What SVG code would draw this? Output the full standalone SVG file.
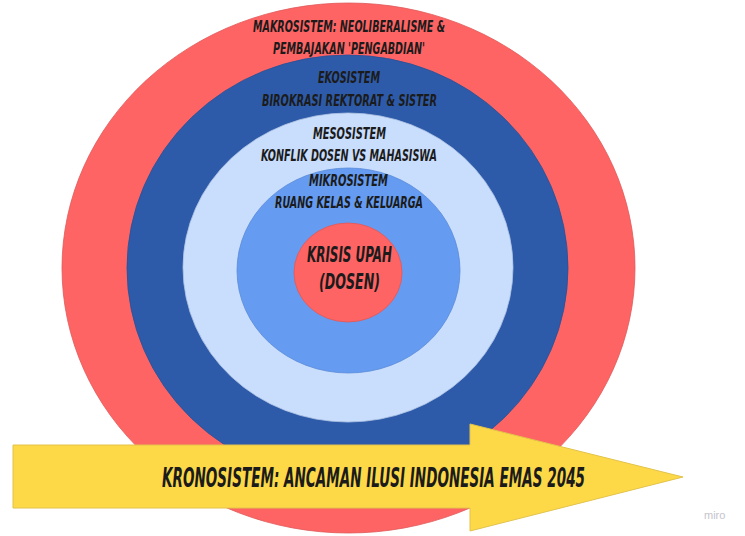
<svg xmlns="http://www.w3.org/2000/svg" width="745" height="536" viewBox="0 0 745 536">
  <style>
    .lbl { font-family: "Liberation Sans Narrow", "DejaVu Sans", sans-serif; font-weight: bold; font-style: italic; fill: #1b1b1b; text-anchor: start; }
    .s { font-size: 16px; }
    .m { font-size: 21px; }
    .l { font-size: 27px; }
    .ring { stroke-width: 0.8; }
  </style>
  <rect width="745" height="536" fill="#ffffff"/>
  <g id="makrosistem">
    <ellipse class="ring" cx="348.5" cy="268" rx="286.5" ry="265" fill="#FF6464" stroke="#e05858"/>
    <text class="lbl s" x="253" y="32" textLength="192" lengthAdjust="spacingAndGlyphs">MAKROSISTEM: NEOLIBERALISME &amp;</text>
    <text class="lbl s" x="273" y="54" textLength="152" lengthAdjust="spacingAndGlyphs">PEMBAJAKAN 'PENGABDIAN'</text>
  </g>
  <g id="ekosistem">
    <ellipse class="ring" cx="347.5" cy="268" rx="220.5" ry="213" fill="#2E5BA9" stroke="#284f94"/>
    <text class="lbl s" x="318" y="83" textLength="62" lengthAdjust="spacingAndGlyphs">EKOSISTEM</text>
    <text class="lbl s" x="262" y="106" textLength="175" lengthAdjust="spacingAndGlyphs">BIROKRASI REKTORAT &amp; SISTER</text>
  </g>
  <g id="mesosistem">
    <ellipse class="ring" cx="348" cy="267.5" rx="165" ry="154.5" fill="#C9DDFC" stroke="#b3c7e6"/>
    <text class="lbl s" x="313" y="139" textLength="73" lengthAdjust="spacingAndGlyphs">MESOSISTEM</text>
    <text class="lbl s" x="261" y="161" textLength="176" lengthAdjust="spacingAndGlyphs">KONFLIK DOSEN VS MAHASISWA</text>
  </g>
  <g id="mikrosistem">
    <ellipse class="ring" cx="348.5" cy="270.5" rx="111.5" ry="102.5" fill="#659BF0" stroke="#5a8cd8"/>
    <text class="lbl s" x="309" y="186" textLength="79" lengthAdjust="spacingAndGlyphs">MIKROSISTEM</text>
    <text class="lbl s" x="275" y="208" textLength="148" lengthAdjust="spacingAndGlyphs">RUANG KELAS &amp; KELUARGA</text>
  </g>
  <g id="krisis-upah">
    <ellipse class="ring" cx="348" cy="272.5" rx="54" ry="49.5" fill="#FF6464" stroke="#e05858"/>
    <text class="lbl m" x="307" y="262" textLength="85" lengthAdjust="spacingAndGlyphs">KRISIS UPAH</text>
    <text class="lbl m" x="319" y="289" textLength="61" lengthAdjust="spacingAndGlyphs">(DOSEN)</text>
  </g>
  <g id="kronosistem">
    <polygon points="13,445 470,445 470,424 683,477 470,531 470,508 13,508" fill="#FDD948" stroke="#e2c24a" stroke-width="1"/>
    <text class="lbl l" x="162" y="487" textLength="423" lengthAdjust="spacingAndGlyphs">KRONOSISTEM: ANCAMAN ILUSI INDONESIA EMAS 2045</text>
  </g>
  <g id="connectors"></g>
  <text x="704" y="519" font-family="Liberation Sans, sans-serif" font-size="11" fill="#c4c4cc">miro</text>
</svg>
